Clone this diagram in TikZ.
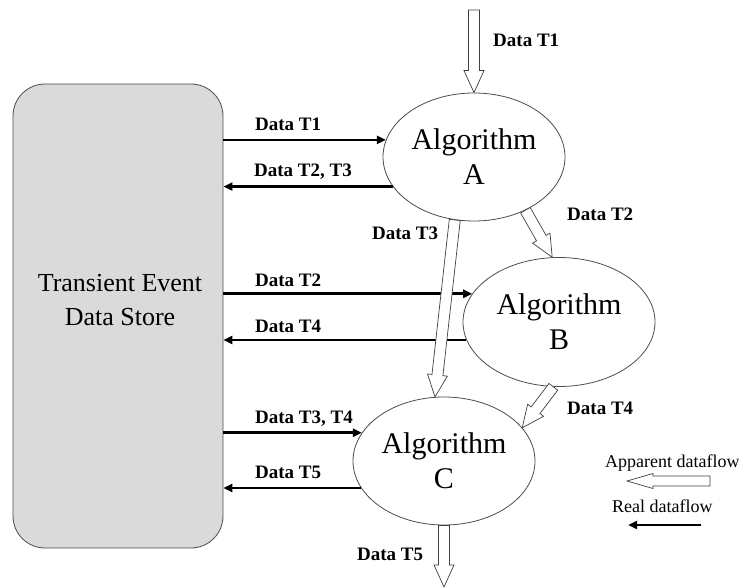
\documentclass[tikz,border=0pt]{standalone}
\usepackage{fontspec}
\setmainfont{Liberation Serif}
\usetikzlibrary{shapes.geometric,calc,arrows.meta}
\definecolor{storegray}{RGB}{218,218,218}
\tikzset{
  store/.style={draw=black!70, fill=storegray, line width=0.8pt, rounded corners=32pt,
    minimum width=210pt, minimum height=464pt, inner sep=0pt},
  storetext/.style={align=center, inner sep=0pt, font=\fontsize{26}{34}\selectfont},
  alg/.style={ellipse, draw=black!70, line width=0.8pt, inner sep=0pt, align=center,
    font=\fontsize{30}{35}\selectfont},
  real/.style={line width=2.6pt, -{Triangle[length=9pt,width=8pt]}},
  hollow/.style={draw=black!75, fill=white, line width=0.7pt, line join=miter},
  lab/.style={anchor=base west, inner sep=0pt, font=\fontsize{19}{22}\selectfont\bfseries},
  leg/.style={anchor=base west, inner sep=0pt, font=\fontsize{18}{21}\selectfont},
}
% #1 from, #2 to, #3 shaft half width, #4 head half width, #5 head length
\newcommand\hollowarrowx[5]{%
  \path (#1) coordinate (has) (#2) coordinate (hat);
  \path ($(hat)!#5!(has)$) coordinate (ham);
  \draw[hollow] ($(has)!#3!90:(hat)$) -- ($(ham)!#3!-90:(has)$) -- ($(ham)!#4!-90:(has)$)
    -- (hat) -- ($(ham)!#4!90:(has)$) -- ($(ham)!#3!90:(has)$) -- ($(has)!#3!-90:(hat)$) -- cycle;
}
\newcommand\hollowarrow[2]{\hollowarrowx{#1}{#2}{5.5pt}{10pt}{22pt}}
\begin{document}
\begin{tikzpicture}[x=1pt,y=-1pt]
\useasboundingbox (0,0) rectangle (739,588);
% data store
\node[store] (S) at (118,316) {};
\node[storetext] (St) at (120,300) {Transient Event\\Data Store};
% algorithms
\node[alg, minimum width=182pt, minimum height=128pt] (A) at (474,157) {Algorithm\\A};
\node[alg, minimum width=192pt, minimum height=129pt] (B) at (559,322) {Algorithm\\B};
\node[alg, minimum width=182pt, minimum height=128pt] (C) at (444,461) {Algorithm\\C};
% real dataflow
\draw[real] (S.east |- A.169) -- (A.169);
\draw[real] (A.200) -- (S.east |- A.200);
\draw[real] (S.east |- B.162) -- (B.162);
\draw[real] (B.191) -- (S.east |- B.191);
\draw[real] (S.east |- C.161) -- (C.161);
\draw[real] (C.198) -- (S.east |- C.198);
% apparent dataflow
\coordinate (T1in) at (474,10);
\coordinate (T5out) at (444,587);
\hollowarrow{T1in}{A.north}
\hollowarrow{A.-107}{C.98}
\hollowarrow{A.-46}{B.96}
\hollowarrow{B.-95}{C.23}
\hollowarrow{C.south}{T5out}
% labels
\node[lab] (l1) at (493,47) {Data T1};
\node[lab] (l2) at (255,131) {Data T1};
\node[lab] (l3) at (254,177) {Data T2, T3};
\node[lab] (l4) at (372,240) {Data T3};
\node[lab] (l5) at (567,221) {Data T2};
\node[lab] (l6) at (255,286) {Data T2};
\node[lab] (l7) at (255,332) {Data T4};
\node[lab] (l8) at (567,414) {Data T4};
\node[lab] (l9) at (255,423) {Data T3, T4};
\node[lab] (l10) at (255,478) {Data T5};
\node[lab] (l11) at (357,560) {Data T5};
% legend
\node[leg] (lg1) at (605,467) {Apparent dataflow};
\node[leg] (lg2) at (612,512) {Real dataflow};
\coordinate (ap1) at (710,481);
\coordinate (ap2) at (627,481);
\hollowarrowx{ap1}{ap2}{5pt}{7.5pt}{26pt}
\coordinate (rf1) at (701,525);
\coordinate (rf2) at (628,525);
\draw[real] (rf1) -- (rf2);
\end{tikzpicture}
\end{document}
